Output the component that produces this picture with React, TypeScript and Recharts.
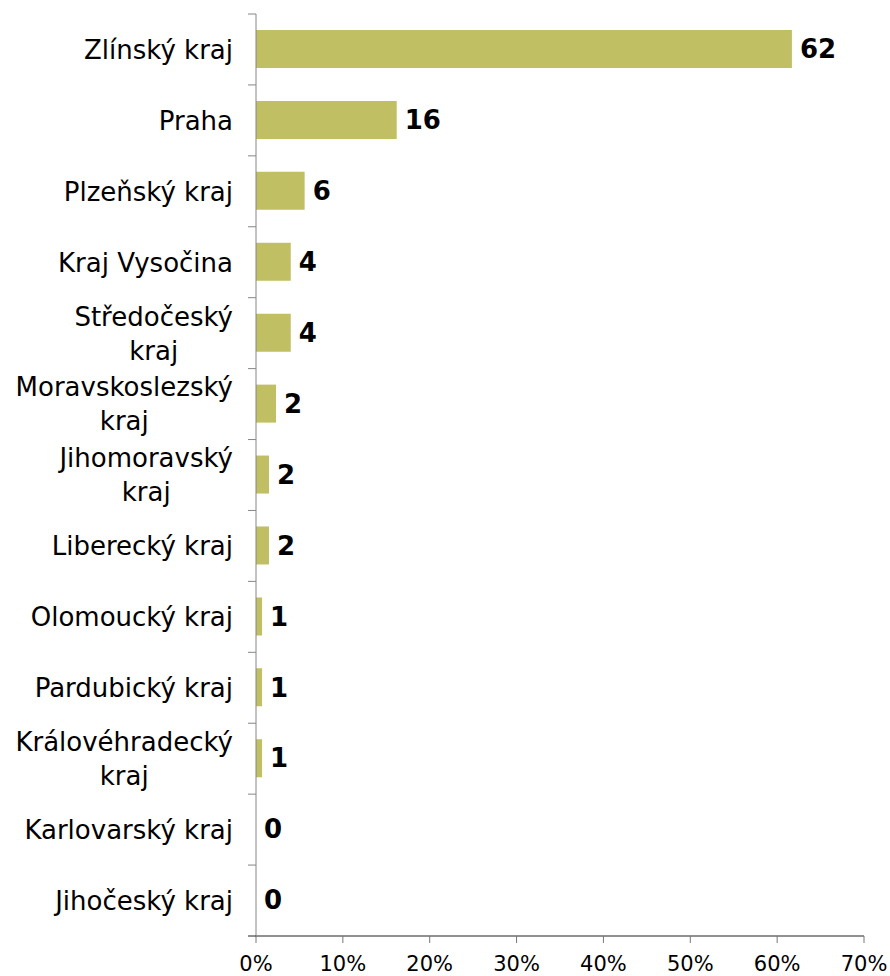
import { Bar, BarChart, LabelList, XAxis, YAxis } from "recharts";

// share of respondents by region, in percent
const regions = [
  "Zlínský kraj",
  "Praha",
  "Plzeňský kraj",
  "Kraj Vysočina",
  "Středočeský kraj",
  "Moravskoslezský kraj",
  "Jihomoravský kraj",
  "Liberecký kraj",
  "Olomoucký kraj",
  "Pardubický kraj",
  "Královéhradecký kraj",
  "Karlovarský kraj",
  "Jihočeský kraj",
];
const shares = [61.7, 16.2, 5.6, 4.0, 4.0, 2.3, 1.5, 1.5, 0.7, 0.7, 0.7, 0, 0];
const xTicks = [0, 10, 20, 30, 40, 50, 60, 70];
const wrapped = [
  "Středočeský kraj",
  "Moravskoslezský kraj",
  "Jihomoravský kraj",
  "Královéhradecký kraj",
];

const FONT = '"DejaVu Sans", Verdana, sans-serif';
const LABEL_SIZE = 26;
const LINE_H = 34;
const TICK_GAP = 23; // space between the axis and the label text
const AXIS_GREY = "#868686";

const data = regions.map((name, i) => ({ name, share: shares[i] }));

let ctx: CanvasRenderingContext2D | null = null;
function textWidth(s: string) {
  if (!ctx) ctx = document.createElement("canvas").getContext("2d");
  if (!ctx) return s.length * LABEL_SIZE * 0.6;
  ctx.font = `${LABEL_SIZE}px "DejaVu Sans"`;
  return ctx.measureText(s).width;
}

// category label plus the small tick marks that sit between the bands
function RegionTick({ x, y, payload, index, visibleTicksCount }: any) {
  const name: string = payload.value;
  const half = payload.offset ?? 0;
  const ax = x + TICK_GAP;
  const marks = (
    <>
      <line x1={ax - 8} x2={ax} y1={y - half} y2={y - half} stroke={AXIS_GREY} />
      {index === visibleTicksCount - 1 && (
        <line x1={ax - 8} x2={ax} y1={y + half} y2={y + half} stroke="#222" />
      )}
    </>
  );
  if (!wrapped.includes(name)) {
    return (
      <g>
        {marks}
        <text x={x} y={y} dy="0.36em" textAnchor="end" fontSize={LABEL_SIZE} fontFamily={FONT} fill="#000">
          {name}
        </text>
      </g>
    );
  }
  const cut = name.lastIndexOf(" ");
  const lines = [name.slice(0, cut), name.slice(cut + 1)];
  const w = Math.max(...lines.map(textWidth));
  const cx = x - w / 2;
  return (
    <g>
      {marks}
      <text textAnchor="middle" fontSize={LABEL_SIZE} fontFamily={FONT} fill="#000">
        {lines.map((l, i) => (
          <tspan key={i} x={cx} y={y + (i - 0.5) * LINE_H} dy="0.36em">
            {l}
          </tspan>
        ))}
      </text>
    </g>
  );
}

export default function App() {
  return (
    <div style={{ position: "absolute", left: 0, top: 0, background: "#fff" }}>
      <BarChart
        width={890}
        height={976}
        data={data}
        layout="vertical"
        margin={{ top: 14, right: 26, bottom: 0, left: 0 }}
      >
        <XAxis
          type="number"
          domain={[0, 70]}
          ticks={xTicks}
          tickFormatter={(v) => `${v}%`}
          axisLine={{ stroke: "#222" }}
          tickLine={{ stroke: "#777" }}
          tickSize={7}
          tickMargin={13}
          height={40}
          tick={{ fontSize: 21, fontFamily: FONT, fill: "#000" }}
          interval={0}
        />
        <YAxis
          type="category"
          dataKey="name"
          width={256}
          axisLine={{ stroke: AXIS_GREY }}
          tickLine={false}
          tickSize={0}
          tickMargin={TICK_GAP}
          interval={0}
          tick={<RegionTick />}
        />
        <Bar dataKey="share" fill="#c1bf63" barSize={38} minPointSize={0.01} isAnimationActive={false}>
          <LabelList
            dataKey="share"
            position="right"
            offset={8}
            formatter={(v: any) => String(Math.round(Number(v)))}
            style={{ fontSize: 26, fontWeight: 700, fontFamily: FONT, fill: "#000" }}
          />
        </Bar>
      </BarChart>
    </div>
  );
}
